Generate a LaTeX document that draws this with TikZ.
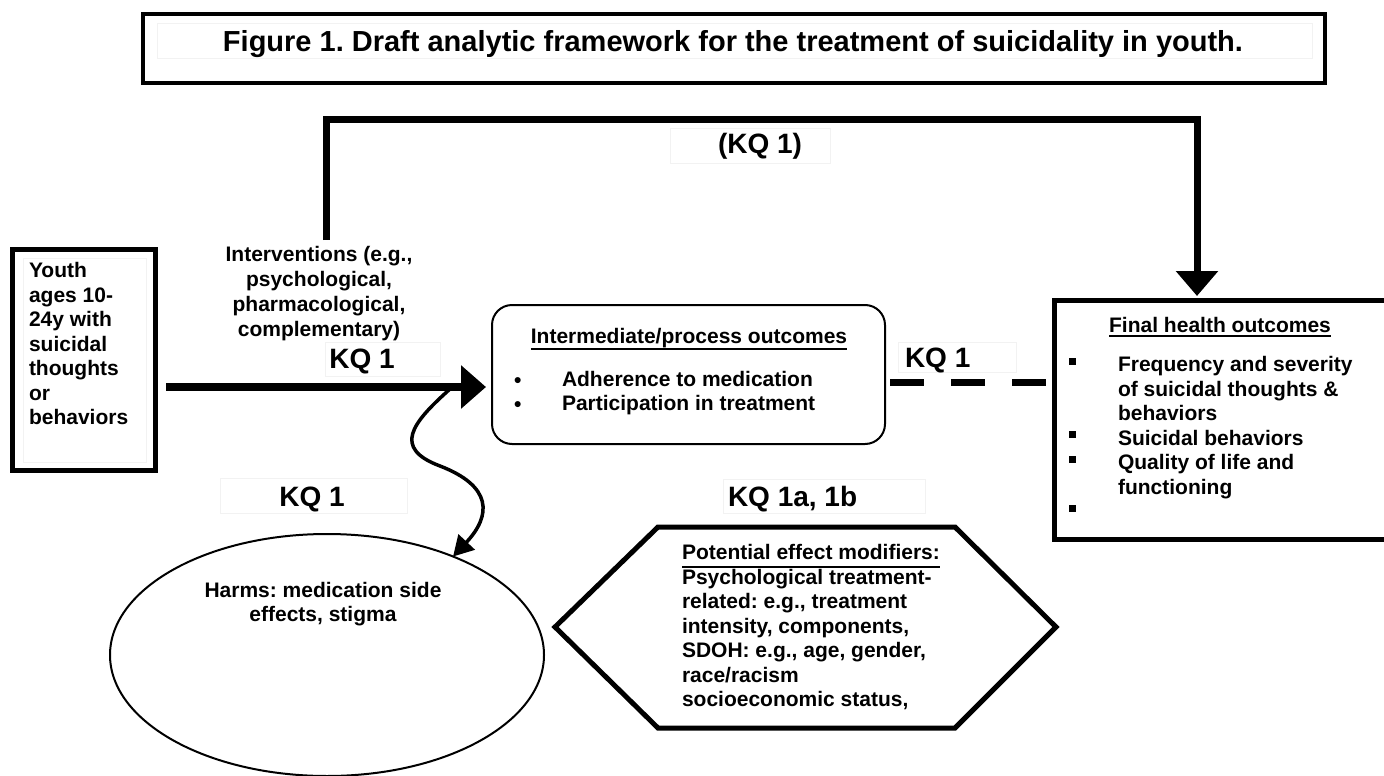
\documentclass[tikz,border=0pt]{standalone}
\usepackage{fontspec}
\setmainfont{Liberation Sans}
\usetikzlibrary{arrows.meta,calc,shapes.geometric}
\frenchspacing
\newcommand\fs[2]{\fontsize{#1pt}{#2pt}\selectfont\bfseries}
\newcommand\myul[2]{\setbox0=\hbox{#2}\rlap{\rule[-#1pt]{\wd0}{2.2pt}}\box0}
\newcommand\sqb{\rule[7pt]{7pt}{7pt}}
\newcommand\rdb{\raisebox{-1pt}{•}}
\begin{document}
\begin{tikzpicture}[x=1pt,y=-1pt,
  every node/.style={inner sep=0pt,outer sep=0pt},
  faint/.style={draw=black!5,line width=0.8pt},
  boxthick/.style={draw,line width=5pt,line join=miter},
  kq/.style={font={\fs{28}{30}}},
  body/.style={font={\fs{21}{24.5}}}]
\useasboundingbox (0,0) rectangle (1384,776);
\fill[white] (0,0) rectangle (1384,776);

% faint text-frame traces
\draw[faint] (157,23) rectangle (1312,58);
\draw[faint] (670,128) rectangle (830,163);
\draw[faint] (23,258) rectangle (146,462);
\draw[faint] (325,342) rectangle (440,376);
\draw[faint] (898,342) rectangle (1016,372);
\draw[faint] (220,478) rectangle (407,513);
\draw[faint] (723,479) rectangle (925,513);

% title
\node[draw,line width=4pt,minimum width=1182pt,minimum height=69pt] (titlebox) at (734,48.5) {};
\node[anchor=base,font={\fs{29}{30}}] (title) at (733,52) {Figure 1. Draft analytic framework for the treatment of suicidality in youth.};

% youth box
\node[boxthick,minimum width=143pt,minimum height=221pt] (youth) at (84,360) {};
\node[anchor=north west,align=left,body] (youthtxt) at (29,262.7) {Youth\\ages 10-\\24y with\\suicidal\\thoughts\\or\\behaviors};

% interventions label
\node[anchor=north,align=center,font={\fs{21}{24.7}}] (interv) at (319,246.7) {Interventions (e.g.,\\psychological,\\pharmacological,\\complementary)};
\node[anchor=base,kq] (kqa) at (362,368) {KQ 1};
\node[anchor=base,kq] (kqtop) at (760,153) {(KQ 1)};

% intermediate box
\node[draw,line width=2pt,rounded corners=20pt,minimum width=393pt,minimum height=139pt] (inter) at (688.5,374.5) {};
\node[anchor=base,font={\fs{21}{24}}] (intertitle) at (689,343) {\myul{7}{Intermediate/process outcomes}};
\node[anchor=north west,align=left,font={\fs{21}{23.5}}] (interlist) at (514,371.7) {\makebox[48pt][l]{\rdb}Adherence to medication\\\makebox[48pt][l]{\rdb}Participation in treatment};

% final box
\node[boxthick,minimum width=340pt,minimum height=239pt] (final) at (1224.5,420) {};
\node[anchor=base,font={\fs{21}{24}}] (finaltitle) at (1220,332) {\myul{5}{Final health outcomes}};
\node[anchor=north west,align=left,body] (finallist) at (1068.5,356.7) {\makebox[49.5pt][l]{\sqb}Frequency and severity\\\hspace*{49.5pt}of suicidal thoughts \&\\\hspace*{49.5pt}behaviors\\\makebox[49.5pt][l]{\sqb}Suicidal behaviors\\\makebox[49.5pt][l]{\sqb}Quality of life and\\\hspace*{49.5pt}functioning\\\makebox[49.5pt][l]{\sqb}};
\node[anchor=base west,kq] (kqb) at (905,367) {KQ 1};

% lower labels
\node[anchor=base,kq] (kqc) at (312,506) {KQ 1};
\node[anchor=base west,kq] (kqd) at (728,506) {KQ 1a, 1b};

% harms
\node[draw,ellipse,line width=2pt,minimum width=434pt,minimum height=242pt] (harms) at (327,655) {};
\node[anchor=north,align=center,font={\fs{21}{24}}] (harmstxt) at (323,582.7) {Harms: medication side\\effects, stigma};

% modifiers hexagon
\draw[line width=5pt,line join=miter] (555,627) -- (658,527) -- (955,527) -- (1056,627) -- (955,728) -- (658,728) -- cycle;
\node[anchor=north west,align=left,body] (modtxt) at (682,544.7) {\myul{8}{Potential effect modifiers:}\\Psychological treatment-\\related: e.g., treatment\\intensity, components,\\SDOH: e.g., age, gender,\\race/racism\\socioeconomic status,};

% connectors
\coordinate (tstart) at (326,240);
\draw[line width=7pt,line join=miter,-{Triangle[length=25pt,width=41pt]}] (tstart) |- ($(final.north)+(-27.5,-181.5)$) -- ($(final.north)+(-27.5,-4.5)$);
\draw[line width=8pt,-{Triangle[length=25pt,width=42pt]}] ($(youth.east)+(10.5,27)$) -- ($(inter.west)+(-6,12.5)$);
\draw[line width=7pt,dash pattern=on 34pt off 27pt] ($(inter.east)+(5,7.5)$) -- ($(final.west)+(-8.5,-38)$);
\coordinate (wstart) at (450,389);
\draw[line width=3.5pt,-{Triangle[length=20pt,width=22pt]}] (wstart) .. controls (412,423) and (392,448) .. (440,466) .. controls (492,486) and (492,515) .. (harms.38);
\end{tikzpicture}
\end{document}
